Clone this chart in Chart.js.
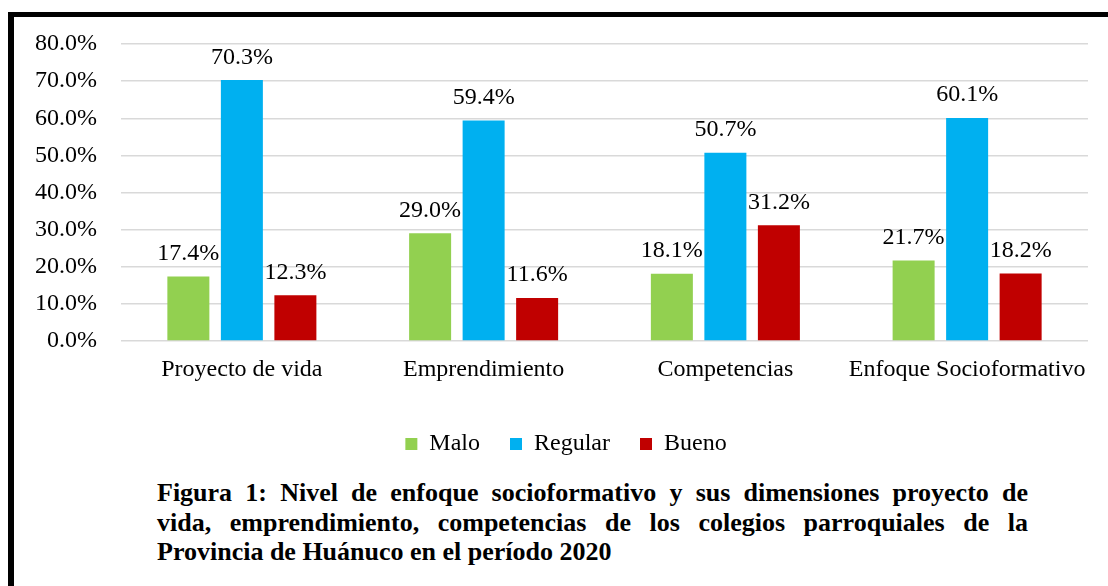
<!DOCTYPE html>
<html>
<head>
<meta charset="utf-8">
<script src="https://cdn.jsdelivr.net/npm/chart.js@4.4.1/dist/chart.umd.min.js"></script>
<style>
  html, body { margin: 0; padding: 0; background: #fff; }
  body { width: 1108px; height: 586px; position: relative; overflow: hidden; }
  #frame {
    position: absolute; left: 8px; top: 12px; right: 0; bottom: 0;
    border-top: 5px solid #000; border-left: 6px solid #000;
  }
  #wrap { position: absolute; left: 0; top: 0; width: 1108px; height: 466px; }
  #caption {
    position: absolute; left: 157px; top: 478px; width: 871px;
    font-family: "Liberation Serif", "Times New Roman", serif;
    font-weight: bold; font-size: 26px; line-height: 29.5px; color: #000;
  }
  #caption div { text-align: justify; text-align-last: justify; }
  #caption div.last { text-align: left; text-align-last: left; }
</style>
</head>
<body>
<div id="frame"></div>
<div id="wrap"><canvas id="nivelChart"></canvas></div>
<div id="caption">
  <div>Figura 1: Nivel de enfoque socioformativo y sus dimensiones proyecto de</div>
  <div>vida, emprendimiento, competencias de los colegios parroquiales de la</div>
  <div class="last">Provincia de Huánuco en el período 2020</div>
</div>
<script>
const categorias = ['Proyecto de vida', 'Emprendimiento', 'Competencias', 'Enfoque Socioformativo'];
const malo = [17.4, 29.0, 18.1, 21.7];
const regular = [70.3, 59.4, 50.7, 60.1];
const bueno = [12.3, 11.6, 31.2, 18.2];
const yTicks = [0, 10, 20, 30, 40, 50, 60, 70, 80];

const serif = '"Liberation Serif", "Times New Roman", serif';

// etiquetas de valor encima de cada barra
const valueLabels = {
    id: 'valueLabels',
    afterLayout(chart) {
        // la leyenda del original esta un poco a la derecha
        chart.legend.left += 10;
    },
    afterDatasetsDraw(chart) {
        const ctx = chart.ctx;
        ctx.save();
        ctx.font = '24px ' + serif;
        ctx.fillStyle = '#000';
        ctx.textAlign = 'center';
        ctx.textBaseline = 'alphabetic';
        chart.data.datasets.forEach(function(ds, i) {
            chart.getDatasetMeta(i).data.forEach(function(bar, j) {
                ctx.fillText(ds.data[j].toFixed(1) + '%', bar.x, bar.y - 16.5);
            });
        });
        ctx.restore();
    }
};

const ctx = document.getElementById('nivelChart').getContext('2d');
const nivelChart = new Chart(ctx, {
    type: 'bar',
    data: {
        labels: categorias,
        datasets: [
            { label: 'Malo', data: malo, backgroundColor: '#92D050' },
            { label: 'Regular', data: regular, backgroundColor: '#00B0F0' },
            { label: 'Bueno', data: bueno, backgroundColor: '#C00000' }
        ]
    },
    options: {
        responsive: true,
        maintainAspectRatio: false,
        animation: false,
        layout: { padding: { left: 34, right: 20, top: 44, bottom: 0 } },
        datasets: {
            bar: { categoryPercentage: 0.664, barPercentage: 0.785 }
        },
        plugins: {
            legend: {
                display: true,
                position: 'bottom',
                labels: {
                    font: { family: serif, size: 24 },
                    color: '#000',
                    boxWidth: 12,
                    boxHeight: 12,
                    padding: 30
                }
            },
            tooltip: { enabled: false }
        },
        scales: {
            x: {
                grid: { display: false },
                border: { display: false },
                ticks: {
                    font: { family: serif, size: 24 },
                    color: '#000',
                    padding: 6,
                    maxRotation: 0,
                    autoSkip: false
                },
                afterFit(axis) { axis.height = 61; }
            },
            y: {
                min: 0,
                max: 80,
                afterBuildTicks(axis) { axis.ticks = yTicks.map(v => ({ value: v })); },
                grid: { color: '#d9d9d9', lineWidth: 1.5, drawTicks: false },
                border: { display: false },
                ticks: {
                    font: { family: serif, size: 24 },
                    color: '#000',
                    padding: 24,
                    callback: v => v.toFixed(1) + '%'
                },
                afterFit(axis) { axis.width = 87; }
            }
        }
    },
    plugins: [valueLabels]
});
</script>
</body>
</html>
